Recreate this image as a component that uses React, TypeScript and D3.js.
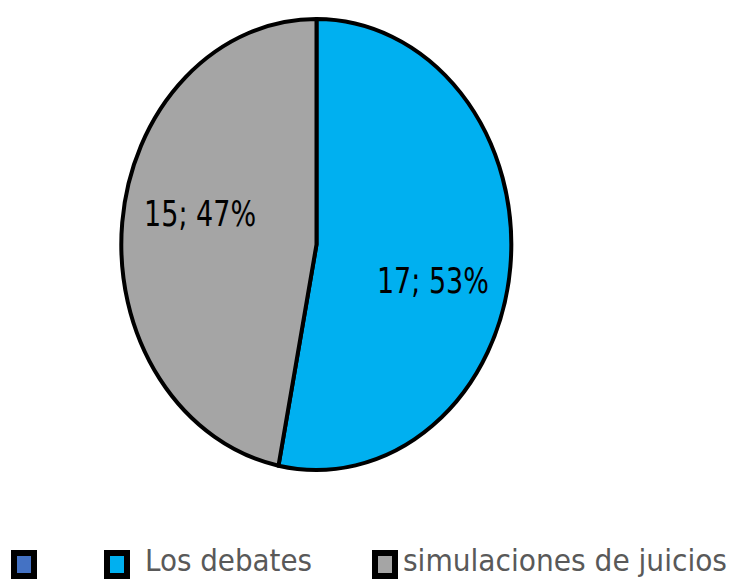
import React from "react";
import * as d3 from "d3";

const categories = ["", "Los debates", "simulaciones de juicios"];
const values = [0, 17, 15];
const colors = ["#4472C4", "#00B0F0", "#A5A5A5"];
const percents = [0, 53, 47];

const W = 732;
const H = 580;
const cx = 316.5;
const cy = 244.5;
const rx = 195;
const ry = 225.5;
const FONT = "'Liberation Sans Narrow', 'Arial Narrow', 'DejaVu Sans Condensed', sans-serif";

// label layout (text center in normalized ellipse coords, per slice index)
const labelDy = [0, 0.1, -0.08];
const labelR = 0.6;
const labelWidth = 112;

// legend layout
const legendBoxX = [11, 104, 372];
const legendTextX = [0, 145, 403];
const legendTextW = [0, 167, 324];

export default function App() {
  const pie = d3.pie<number>().sort(null).value((d) => d)(values);
  const arc = d3.arc<d3.PieArcDatum<number>>().innerRadius(0).outerRadius(1);
  return (
    <svg width={W} height={H} style={{ position: "absolute", left: 0, top: 0 }}>
      <rect width={W} height={H} fill="#fff" />
      <g transform={`translate(${cx},${cy}) scale(${rx},${ry})`}>
        {pie.map((p, i) =>
          p.value > 0 ? (
            <path
              key={i}
              d={arc(p) || ""}
              fill={colors[i]}
              stroke="#000"
              strokeWidth={4}
              strokeLinejoin="round"
              vectorEffect="non-scaling-stroke"
            />
          ) : null
        )}
      </g>
      {pie.map((p, i) => {
        if (p.value <= 0) return null;
        const a = (p.startAngle + p.endAngle) / 2;
        const x = cx + Math.sin(a) * labelR * rx;
        const y = cy + (-Math.cos(a) * labelR + labelDy[i]) * ry;
        return (
          <text
            key={i}
            x={x - labelWidth / 2}
            y={y + 13}
            fontFamily={FONT}
            fontSize={36}
            fill="#000"
            textLength={labelWidth}
            lengthAdjust="spacingAndGlyphs"
          >
            {`${values[i]}; ${percents[i]}%`}
          </text>
        );
      })}
      {categories.map((c, i) => (
        <g key={i}>
          <rect
            x={legendBoxX[i] + 3}
            y={553}
            width={20}
            height={23}
            fill={colors[i]}
            stroke="#000"
            strokeWidth={6}
          />
          {c ? (
            <text
              x={legendTextX[i]}
              y={571}
              fontFamily={FONT}
              fontSize={31}
              fill="#595959"
              textLength={legendTextW[i]}
              lengthAdjust="spacingAndGlyphs"
            >
              {c}
            </text>
          ) : null}
        </g>
      ))}
    </svg>
  );
}
